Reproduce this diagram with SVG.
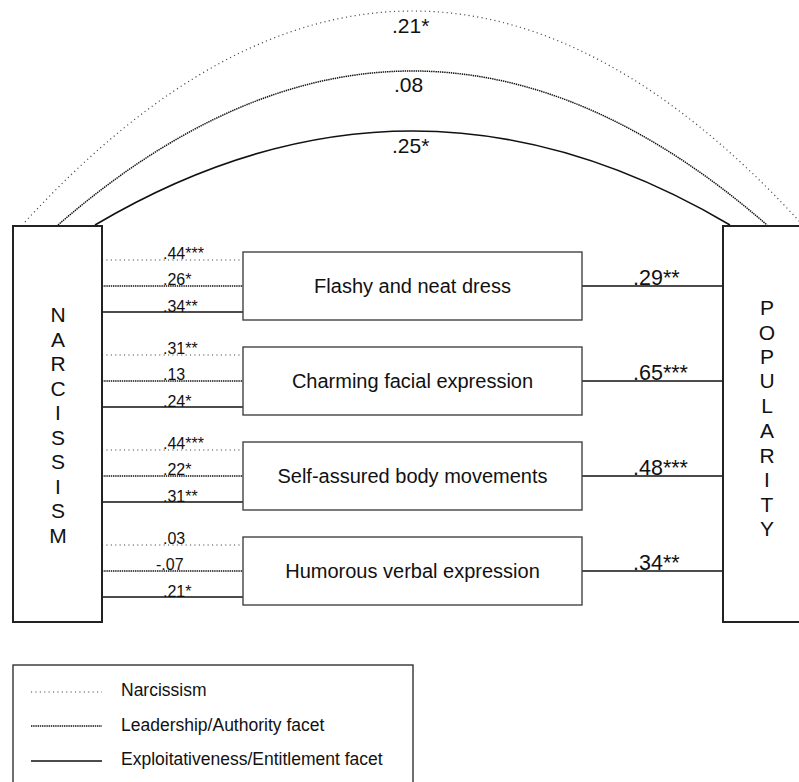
<svg xmlns="http://www.w3.org/2000/svg" width="799" height="782" viewBox="0 0 799 782">
<style>
.nar{stroke:#444;stroke-width:1.2;stroke-dasharray:1.1 3.3;fill:none}
.lead{stroke:#111;stroke-width:1.5;stroke-dasharray:1.4 0.8;fill:none}
.exp{stroke:#111;stroke-width:1.6;fill:none}
.box{fill:#fff;stroke:#222;stroke-width:2}
.mbox{fill:#fff;stroke:#444;stroke-width:1.4}
text{font-family:"Liberation Sans",Arial,sans-serif;fill:#111}
.lab{font-size:16px}
.rlab{font-size:21.5px}
.top{font-size:21px}
.mt{font-size:20px;text-anchor:middle}
.vt{font-size:21px;text-anchor:middle}
.lg{font-size:17.5px}
</style>
<rect width="799" height="782" fill="#fff"/>
<g id="connectors">
<path class="nar" d="M25,222 Q412.5,-200 800,222"/>
<path class="lead" d="M58,225 Q412.5,-83 767,225"/>
<path class="exp" d="M95,225 Q412.5,37 730,225"/>
<line class="nar" x1="102" y1="260" x2="243" y2="260"/>
<line class="lead" x1="102" y1="286" x2="243" y2="286"/>
<line class="exp" x1="102" y1="312" x2="243" y2="312"/>
<line class="nar" x1="102" y1="355" x2="243" y2="355"/>
<line class="lead" x1="102" y1="381" x2="243" y2="381"/>
<line class="exp" x1="102" y1="407" x2="243" y2="407"/>
<line class="nar" x1="102" y1="450" x2="243" y2="450"/>
<line class="lead" x1="102" y1="476" x2="243" y2="476"/>
<line class="exp" x1="102" y1="502" x2="243" y2="502"/>
<line class="nar" x1="102" y1="545" x2="243" y2="545"/>
<line class="lead" x1="102" y1="571" x2="243" y2="571"/>
<line class="exp" x1="102" y1="597" x2="243" y2="597"/>
<line class="exp" x1="582" y1="286" x2="723" y2="286"/>
<line class="exp" x1="582" y1="381" x2="723" y2="381"/>
<line class="exp" x1="582" y1="476" x2="723" y2="476"/>
<line class="exp" x1="582" y1="571" x2="723" y2="571"/>
<text class="top" x="392" y="33">.21*</text>
<text class="top" x="394" y="92">.08</text>
<text class="top" x="392" y="153">.25*</text>
<text class="lab" x="163" y="259">.44***</text>
<text class="lab" x="163" y="285">.26*</text>
<text class="lab" x="163" y="312">.34**</text>
<text class="lab" x="163" y="354">.31**</text>
<text class="lab" x="163" y="380">.13</text>
<text class="lab" x="163" y="407">.24*</text>
<text class="lab" x="163" y="449">.44***</text>
<text class="lab" x="163" y="475">.22*</text>
<text class="lab" x="163" y="502">.31**</text>
<text class="lab" x="163" y="544">.03</text>
<text class="lab" x="156" y="570">-.07</text>
<text class="lab" x="163" y="597">.21*</text>
<text class="rlab" x="633" y="285">.29**</text>
<text class="rlab" x="633" y="380">.65***</text>
<text class="rlab" x="633" y="475">.48***</text>
<text class="rlab" x="633" y="570">.34**</text>
</g>
<g id="narcissism">
<rect class="box" x="13" y="226" width="89" height="396"/>
<text class="vt" x="58" y="322">N</text>
<text class="vt" x="58" y="347">A</text>
<text class="vt" x="58" y="371">R</text>
<text class="vt" x="58" y="396">C</text>
<text class="vt" x="58" y="420">I</text>
<text class="vt" x="58" y="445">S</text>
<text class="vt" x="58" y="469">S</text>
<text class="vt" x="58" y="494">I</text>
<text class="vt" x="58" y="518">S</text>
<text class="vt" x="58" y="543">M</text>
</g>
<g id="popularity">
<rect class="box" x="723" y="226" width="90" height="396"/>
<text class="vt" x="767" y="315">P</text>
<text class="vt" x="767" y="340">O</text>
<text class="vt" x="767" y="364">P</text>
<text class="vt" x="767" y="388">U</text>
<text class="vt" x="767" y="413">L</text>
<text class="vt" x="767" y="438">A</text>
<text class="vt" x="767" y="463">R</text>
<text class="vt" x="767" y="487">I</text>
<text class="vt" x="767" y="512">T</text>
<text class="vt" x="767" y="536">Y</text>
</g>
<g id="dress">
<rect class="mbox" x="243" y="252" width="339" height="68"/>
<text class="mt" x="412.5" y="293">Flashy and neat dress</text>
</g>
<g id="facial">
<rect class="mbox" x="243" y="347" width="339" height="68"/>
<text class="mt" x="412.5" y="388">Charming facial expression</text>
</g>
<g id="body">
<rect class="mbox" x="243" y="442" width="339" height="68"/>
<text class="mt" x="412.5" y="483">Self-assured body movements</text>
</g>
<g id="verbal">
<rect class="mbox" x="243" y="537" width="339" height="68"/>
<text class="mt" x="412.5" y="578">Humorous verbal expression</text>
</g>
<g id="legend">
<rect x="13" y="665" width="400" height="130" fill="#fff" stroke="#333" stroke-width="1.4"/>
<line class="nar" x1="31" y1="692" x2="102" y2="692"/>
<line class="lead" x1="31" y1="726" x2="102" y2="726"/>
<line class="exp" x1="31" y1="761" x2="102" y2="761"/>
<text class="lg" x="121" y="696">Narcissism</text>
<text class="lg" x="121" y="731">Leadership/Authority facet</text>
<text class="lg" x="121" y="765">Exploitativeness/Entitlement facet</text>
</g>
</svg>
